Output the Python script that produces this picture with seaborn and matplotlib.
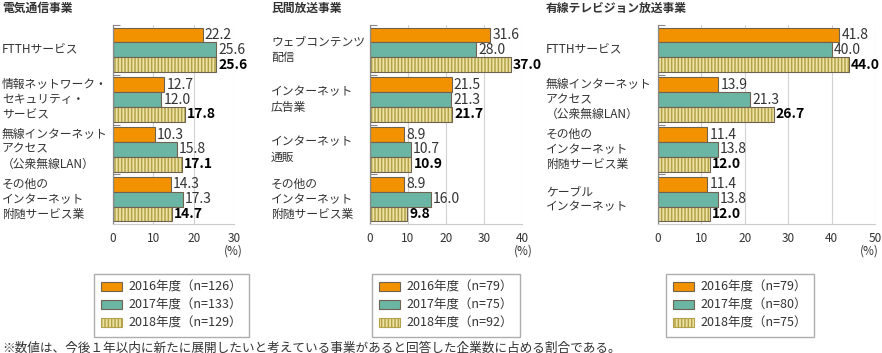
import numpy as np
import pandas as pd
import matplotlib
matplotlib.use("Agg")
import matplotlib.pyplot as plt
import seaborn as sns
from matplotlib.patches import Patch
from matplotlib import transforms
from matplotlib.colors import to_rgba

# ---------------- data ----------------
years = ["2016年度", "2017年度", "2018年度"]

p1_title = "電気通信事業"
p1_cats = ["FTTHサービス", "情報ネットワーク・\nセキュリティ・\nサービス",
           "無線インターネット\nアクセス\n（公衆無線LAN）", "その他の\nインターネット\n附随サービス業"]
p1_2016 = [22.2, 12.7, 10.3, 14.3]
p1_2017 = [25.6, 12.0, 15.8, 17.3]
p1_2018 = [25.6, 17.8, 17.1, 14.7]
p1_n = [126, 133, 129]
p1_xmax = 30

p2_title = "民間放送事業"
p2_cats = ["ウェブコンテンツ\n配信", "インターネット\n広告業", "インターネット\n通販",
           "その他の\nインターネット\n附随サービス業"]
p2_2016 = [31.6, 21.5, 8.9, 8.9]
p2_2017 = [28.0, 21.3, 10.7, 16.0]
p2_2018 = [37.0, 21.7, 10.9, 9.8]
p2_n = [79, 75, 92]
p2_xmax = 40

p3_title = "有線テレビジョン放送事業"
p3_cats = ["FTTHサービス", "無線インターネット\nアクセス\n（公衆無線LAN）",
           "その他の\nインターネット\n附随サービス業", "ケーブル\nインターネット"]
p3_2016 = [41.8, 13.9, 11.4, 11.4]
p3_2017 = [40.0, 21.3, 13.8, 13.8]
p3_2018 = [44.0, 26.7, 12.0, 12.0]
p3_n = [79, 80, 75]
p3_xmax = 50

footnote = "※数値は、今後１年以内に新たに展開したいと考えている事業があると回答した企業数に占める割合である。"

# ---------------- style ----------------
sns.set_style("white")
plt.rcParams["font.family"] = ["Noto Sans CJK JP", "DejaVu Sans"]
plt.rcParams["hatch.linewidth"] = 1.1

ORANGE = "#F39200"
TEAL = "#6BB5A4"
HFACE = "#EDE3A2"
HLINE = "#B3A24A"
EDGE = "#6E6250"
TXT = "#333333"

W, H = 882, 353
fig = plt.figure(figsize=(W / 100, H / 100), dpi=100)


def fx(px):
    return px / W


def fy(py):
    return 1 - py / H


def set_hatch_color(p, c):
    try:
        p.set_hatchcolor(c)
    except AttributeError:
        p._hatch_color = to_rgba(c)


def draw(left, width, cats, v16, v17, v18, n, xmax, title, label_x, title_x, legend_x, pct_x):
    top, bottom = 25, 224
    ax = fig.add_axes([fx(left), fy(bottom), fx(width), (bottom - top) / H])
    df = pd.DataFrame({
        "category": cats * 3,
        "year": [y for y in years for _ in cats],
        "value": list(v16) + list(v17) + list(v18),
    })
    sns.barplot(data=df, y="category", x="value", hue="year", hue_order=years,
                order=cats, palette=[ORANGE, TEAL, HFACE], orient="h",
                width=0.89, gap=0, edgecolor=EDGE, linewidth=0.8,
                errorbar=None, legend=False, saturation=1, ax=ax)
    for p in ax.containers[2]:
        p.set_hatch("|||||")
        set_hatch_color(p, HLINE)

    for i, cont in enumerate(ax.containers):
        vals = [v16, v17, v18][i]
        ax.bar_label(cont, labels=[f"{v:.1f}" for v in vals], padding=1.5,
                     fontsize=10, color="#000000" if i == 2 else TXT,
                     fontweight="bold" if i == 2 else "normal")

    ax.set_xlim(0, xmax)
    ax.set_xticks(range(0, xmax + 1, 10))
    ax.set_ylim(3.5, -0.5)
    ax.set_yticks([])
    ax.set_yticks([-0.5, 0.5, 1.5, 2.5], minor=True)
    ax.set_yticklabels([], minor=True)
    ax.tick_params(axis="y", which="minor", direction="in", length=5, width=0.8,
                   color="#888888", left=True)
    ax.tick_params(axis="x", length=0, pad=6, labelsize=8.5, labelcolor=TXT)
    ax.set_xlabel("")
    ax.set_ylabel("")
    ax.grid(axis="x", color="#d2d2d2", lw=0.8)
    ax.grid(axis="y", visible=False)
    ax.set_axisbelow(True)
    for s in ["top", "right"]:
        ax.spines[s].set_visible(False)
    ax.spines["left"].set_color("#888888")
    ax.spines["left"].set_linewidth(0.9)
    ax.spines["bottom"].set_color("#cccccc")
    ax.spines["bottom"].set_linewidth(0.8)

    trans = transforms.blended_transform_factory(fig.transFigure, ax.transData)
    for i, c in enumerate(cats):
        ax.text(fx(label_x), i, c, transform=trans, ha="left", va="center",
                fontsize=8.5, linespacing=1.22, color=TXT)

    fig.text(fx(title_x), fy(8), title, ha="left", va="center", fontsize=8.5,
             fontweight="bold", color=TXT)
    fig.text(fx(pct_x), fy(251), "(%)", ha="center", va="center", fontsize=8.5, color=TXT)

    handles = [
        Patch(facecolor=ORANGE, edgecolor=EDGE, lw=0.8),
        Patch(facecolor=TEAL, edgecolor=EDGE, lw=0.8),
        Patch(facecolor=HFACE, edgecolor=HLINE, lw=0.8, hatch="|||||"),
    ]
    labels = [f"{y}（n={k}）" for y, k in zip(years, n)]
    fig.legend(handles, labels, loc="upper left",
               bbox_to_anchor=(fx(legend_x), fy(274)), bbox_transform=fig.transFigure,
               frameon=True, fancybox=False, edgecolor="#999999", fontsize=9,
               handlelength=1.7, handleheight=0.75, handletextpad=0.5,
               labelspacing=0.4, borderpad=0.55, borderaxespad=0,
               labelcolor=TXT)
    return ax


draw(113, 121, p1_cats, p1_2016, p1_2017, p1_2018, p1_n, p1_xmax, p1_title,
     2, 2, 94, 233)
draw(370, 152, p2_cats, p2_2016, p2_2017, p2_2018, p2_n, p2_xmax, p2_title,
     271, 271, 372, 523)
draw(658, 217, p3_cats, p3_2016, p3_2017, p3_2018, p3_n, p3_xmax, p3_title,
     546, 546, 666, 869)

fig.text(fx(2), fy(348), footnote, ha="left", va="center", fontsize=9.1, color=TXT)

fig.savefig("out.png", dpi=100)
